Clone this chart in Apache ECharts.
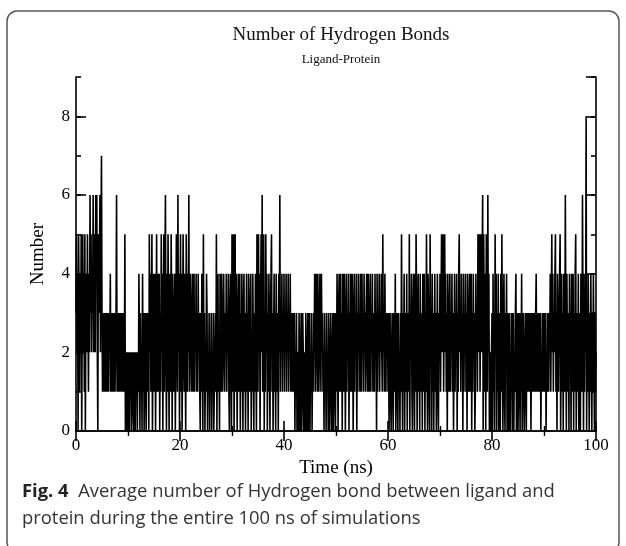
<!DOCTYPE html>
<html>
<head>
<meta charset="utf-8">
<script src="https://cdn.jsdelivr.net/npm/echarts@6/dist/echarts.min.js"></script>
<style>
  html, body { margin: 0; padding: 0; background: #fff; }
  #container { width: 626px; height: 546px; }
</style>
</head>
<body>
<div id="container"></div>
<script>
// hydrogen bond count, 10 samples per ns, one array per 10 ns
var hb00_10 = [3,5,2,4,0,5,3,1,4,2, 5,0,3,5,2,4,1,5,0,3, 4,2,5,3,1,4,2,6,3,5, 2,4,3,6,2,5,3,2,6,4, 6,2,0,5,3,4,6,2,5,7,
               3,1,2,3,1,3,2,1,3,2, 1,3,2,1,3,2,4,1,3,2, 1,3,2,1,3,1,2,3,6,1, 3,2,1,3,2,1,3,1,2,3, 1,3,2,1,5,0,2,1,0,2];
var hb10_20 = [0,2,1,0,2,1,2,0,1,2, 1,0,2,1,0,2,1,2,0,2, 1,4,2,0,3,1,2,0,4,1, 3,0,2,3,1,0,3,2,1,3, 0,5,2,4,1,3,5,0,2,4,
               1,3,4,0,2,5,1,4,3,1, 4,0,3,1,5,2,4,0,3,5, 1,4,6,2,0,4,1,5,3,0, 4,2,1,5,3,0,4,2,1,3, 4,0,2,5,3,1,6,2,4,0];
var hb20_30 = [3,5,1,4,0,2,5,3,1,4, 2,0,5,3,1,4,2,6,1,3, 4,2,1,3,4,1,2,4,1,3, 2,4,1,3,1,4,2,3,1,0, 3,1,4,2,0,5,1,3,0,2,
               1,4,3,0,2,1,3,0,2,1, 3,0,2,1,3,0,1,2,3,1, 5,0,3,4,1,2,0,4,3,1, 4,2,1,3,4,2,1,3,2,4, 1,3,2,4,1,0,3,4,2,0];
var hb30_40 = [5,1,3,5,0,2,5,1,4,2, 0,3,4,1,2,4,0,3,1,4, 2,0,3,4,1,3,0,2,4,1, 3,0,4,2,1,3,4,0,2,1, 4,2,0,3,1,4,2,0,5,3,
               1,5,2,4,0,3,5,2,6,1, 4,5,0,3,1,5,2,4,0,3, 1,4,2,0,3,4,5,1,3,0, 2,4,1,3,0,4,2,1,3,0, 4,2,6,1,3,2,4,1,3,2];
var hb40_50 = [4,1,3,2,4,1,3,2,4,1, 3,2,4,1,3,2,1,3,2,1, 3,0,2,1,3,0,2,1,0,3, 1,0,2,3,0,1,3,2,0,1, 2,0,3,1,0,2,3,0,1,3,
               0,2,1,3,0,2,1,3,2,4, 1,3,4,2,1,4,3,1,2,4, 3,1,4,2,3,1,2,0,3,1, 2,0,3,1,2,0,3,1,0,2, 3,1,0,2,3,0,1,3,2,0];
var hb50_60 = [3,1,4,2,0,3,4,1,2,4, 1,3,0,4,2,1,4,3,0,2, 4,1,3,2,4,0,3,1,4,2, 1,4,3,0,2,4,1,3,2,4, 0,3,1,4,2,3,1,4,2,1,
               4,2,3,1,4,2,3,1,3,4, 2,1,4,3,1,2,4,1,3,2, 4,1,3,2,1,4,2,3,0,4, 1,3,2,4,1,3,2,4,2,1, 5,2,3,1,4,2,1,3,2,3];
var hb60_70 = [1,3,0,2,3,1,0,2,3,1, 0,3,2,1,4,0,2,3,1,0, 3,1,2,0,3,1,5,2,0,3, 1,4,0,2,3,1,4,0,2,3, 1,5,0,3,2,4,1,0,3,4,
               2,0,4,1,5,3,0,2,4,1, 3,0,4,2,1,3,0,4,1,2, 4,0,3,1,5,2,0,4,3,1, 0,5,2,3,0,4,1,3,0,2, 4,1,3,0,2,4,1,0,3,2];
var hb70_80 = [4,1,3,5,2,4,5,1,3,5, 2,4,1,3,0,4,2,1,3,4, 1,3,2,4,1,3,0,2,4,1, 3,2,4,0,3,1,4,5,2,3, 1,4,2,3,0,4,1,3,2,4,
               1,3,0,4,2,1,3,4,1,2, 4,0,3,1,4,2,3,0,1,4, 2,3,1,5,2,4,5,1,3,5, 2,4,6,0,5,3,1,4,0,5, 3,1,6,2,4,0,2,1,0,2];
var hb80_90 = [3,0,4,1,3,0,5,2,4,0, 3,1,4,0,2,3,0,4,1,5, 2,0,3,4,1,0,3,2,4,0, 2,3,0,1,3,0,2,1,3,0, 1,3,0,2,1,3,4,0,2,3,
               0,1,3,2,0,3,1,4,0,2, 3,1,0,2,3,1,0,3,2,1, 3,2,1,3,2,0,3,1,2,3, 1,3,2,1,3,4,1,2,3,1, 3,2,1,3,0,2,1,3,2,1];
var hb90_100 = [3,1,2,3,0,2,1,3,2,1, 3,2,4,1,3,5,2,4,1,3, 2,4,5,1,3,0,4,2,1,3, 4,5,0,2,4,1,3,0,4,2, 1,6,3,0,4,2,1,3,0,4,
                2,3,0,4,1,2,4,0,3,1, 4,5,0,2,3,1,4,0,3,2, 0,4,2,1,6,3,0,4,1,3, 2,8,0,3,1,4,2,0,3,1, 4,2,0,3,1,4,2,0,3,1, 2];

var segments = [hb00_10, hb10_20, hb20_30, hb30_40, hb40_50, hb50_60, hb60_70, hb70_80, hb80_90, hb90_100];
var samplesPerNs = 10;

var data = [];
for (var s = 0; s < segments.length; s++) {
    var seg = segments[s];
    for (var i = 0; i < seg.length; i++) {
        data.push([s * 10 + i / samplesPerNs, seg[i]]);
    }
}

var serif = 'Liberation Serif';
var axisBlack = { show: true, lineStyle: { color: '#000', width: 1.6 } };

function xAx(pos, labels) {
    return {
        type: 'value', position: pos, min: 0, max: 100, interval: 20,
        axisLine: axisBlack,
        axisTick: { show: true, inside: true, length: 10, lineStyle: { color: '#000', width: 1.6 } },
        minorTick: { show: true, splitNumber: 2, length: 5, lineStyle: { color: '#000', width: 1.4 } },
        splitLine: { show: false },
        axisLabel: { show: labels, fontFamily: serif, fontSize: 17, color: '#000', margin: 6 },
        name: labels ? 'Time (ns)' : '',
        nameLocation: 'middle', nameGap: 27,
        nameTextStyle: { fontFamily: serif, fontSize: 19, color: '#000' }
    };
}

function yAx(pos, major, labels) {
    return {
        type: 'value', position: pos, min: 0, max: 9, interval: major ? 2 : 1,
        axisLine: major ? axisBlack : { show: false },
        axisTick: { show: true, inside: true, length: major ? 10 : 5, lineStyle: { color: '#000', width: 1.6 } },
        splitLine: { show: false },
        axisLabel: { show: labels, showMaxLabel: false, fontFamily: serif, fontSize: 17, color: '#000', margin: 6 },
        name: labels ? 'Number' : '',
        nameLocation: 'middle', nameGap: 28,
        nameTextStyle: { fontFamily: serif, fontSize: 19, color: '#000' }
    };
}

var myChart = echarts.init(document.getElementById('container'));

var option = {
    animation: false,
    backgroundColor: '#fff',
    title: {
        text: 'Number of Hydrogen Bonds',
        subtext: 'Ligand-Protein',
        left: 336, top: 21, textAlign: 'center', itemGap: 8,
        textStyle: { fontFamily: serif, fontSize: 19, fontWeight: 'normal', color: '#111' },
        subtextStyle: { fontFamily: serif, fontSize: 13, color: '#111' }
    },
    grid: { left: 76, right: 30, top: 77, bottom: 115 },
    xAxis: [xAx('bottom', true), xAx('top', false)],
    yAxis: [yAx('left', true, true), yAx('left', false, false), yAx('right', true, false), yAx('right', false, false)],
    series: [{
        type: 'line',
        xAxisIndex: 0, yAxisIndex: 0,
        data: data,
        showSymbol: false,
        lineStyle: { color: '#000', width: 1.6 }
    }],
    graphic: [
        {
            type: 'rect',
            shape: { x: 7, y: 11, width: 612, height: 541, r: 10 },
            style: { fill: 'none', stroke: '#555', lineWidth: 1.5 }
        },
        {
            type: 'text', left: 22, top: 478,
            style: {
                text: '{b|Fig. 4}  Average number of Hydrogen bond between ligand and\nprotein during the entire 100 ns of simulations',
                font: '18.4px "Open Sans"', fill: '#333', lineHeight: 27,
                rich: { b: { fontWeight: 'bold', fontFamily: 'Open Sans', fontSize: 18.4, fill: '#222' } }
            }
        }
    ]
};

myChart.setOption(option);
</script>
</body>
</html>
